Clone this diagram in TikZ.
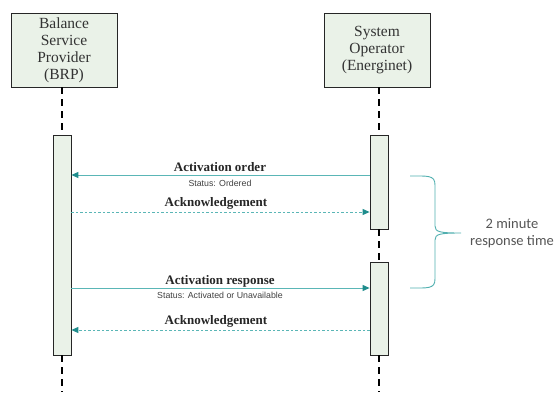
\documentclass[tikz,border=0pt]{standalone}
\usepackage{fontspec}
\setmainfont{Liberation Serif}
\newfontfamily\arialf{Liberation Sans}
\newfontfamily\calibrif{Carlito}
\usetikzlibrary{arrows.meta,decorations.pathreplacing}
\definecolor{boxfill}{RGB}{234,242,232}
\definecolor{msgline}{RGB}{90,182,182}
\definecolor{msghead}{RGB}{30,140,140}
\definecolor{bracec}{RGB}{80,175,175}
\definecolor{graytxt}{RGB}{85,85,85}
\tikzset{
  actor/.style={draw=black!85, line width=0.8pt, fill=boxfill, minimum width=106pt, minimum height=74pt, align=center, font=\fontsize{15.5}{17}\selectfont, text=black!80, inner sep=0pt},
  actbar/.style={draw=black!85, line width=0.8pt, fill=boxfill, minimum width=18pt, inner sep=0pt},
  lifeline/.style={line width=1.6pt, dash pattern=on 7pt off 5pt},
  msg/.style={draw=msgline, line width=1pt, -{Triangle[length=7pt,width=6pt,fill=msghead,color=msghead]}},
  ack/.style={msg, dash pattern=on 2.5pt off 2pt},
  mlabel/.style={font=\fontsize{13}{15}\selectfont\bfseries, text=black!85},
  slabel/.style={font=\arialf\fontsize{8.8}{10}\selectfont, text=black!75},
}
\begin{document}
\begin{tikzpicture}[x=1pt,y=-1pt]
\useasboundingbox (0,0) rectangle (558,392);
% actors
\node[actor] (brp) at (64,50) {Balance\\Service\\Provider\\(BRP)};
\node[actor] (so) at (377,50) {System\\Operator\\(Energinet)};
% activation bars
\node[actbar, minimum height=220pt] (bbar) at (62,245) {};
\node[actbar, minimum height=94pt] (sbar1) at (379,182) {};
\node[actbar, minimum height=93pt] (sbar2) at (379,308.5) {};
% lifelines
\coordinate (bend) at (62,392);
\coordinate (send) at (379,392);
\draw[lifeline] (62,87) -- (bbar.north);
\draw[lifeline] (bbar.south) -- (bend);
\draw[lifeline] (379,87) -- (sbar1.north);
\draw[lifeline] (sbar1.south) -- (sbar2.north);
\draw[lifeline] (sbar2.south) -- (send);
% messages
\draw[msg] (sbar1.west |- 0,175) -- (bbar.east |- 0,175);
\node[mlabel] (l1) at (220,167) {Activation order};
\node[slabel] (s1) at (220,183) {Status: Ordered};
\draw[ack] (bbar.east |- 0,212) -- (sbar1.west |- 0,212);
\node[mlabel] (l2) at (216,203) {Acknowledgement};
\draw[msg] (bbar.east |- 0,288) -- (sbar2.west |- 0,288);
\node[mlabel] (l3) at (220,281) {Activation response};
\node[slabel] (s3) at (220,295) {Status: Activated or Unavailable};
\draw[ack] (sbar2.west |- 0,330) -- (bbar.east |- 0,330);
\node[mlabel] (l4) at (216,321) {Acknowledgement};
% brace
\coordinate (bt) at (410,176);
\coordinate (bb) at (410,288);
\draw[bracec, line width=0.9pt] (bt) .. controls (428,176) and (435,175) .. (435,185)
  -- (435,226) .. controls (435,232) and (440,233) .. (461,233) coordinate (tip)
  .. controls (440,233) and (435,234) .. (435,240) -- (435,279)
  .. controls (435,289) and (428,288) .. (bb);
\node[font=\calibrif\fontsize{14.5}{16.5}\selectfont, text=graytxt, align=center] (rt) at (512,233) {2 minute\\response time};
\end{tikzpicture}
\end{document}
